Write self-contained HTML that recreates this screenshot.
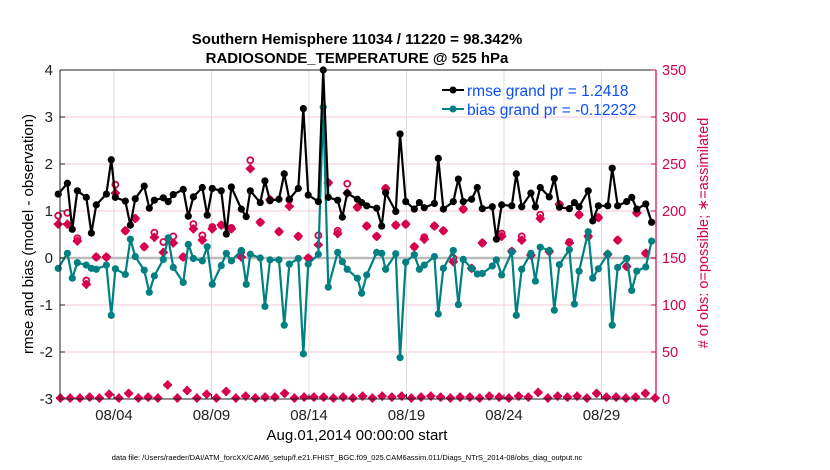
<!DOCTYPE html>
<html><head><meta charset="utf-8">
<style>
html,body{margin:0;padding:0;background:#fff;}
svg{display:block;font-family:"Liberation Sans",sans-serif;}
</style></head>
<body>
<svg id="chart" width="830" height="470" viewBox="0 0 830 470">
  <rect x="0" y="0" width="830" height="470" fill="#fff"/>
  <g id="grid"></g>
  <g id="marks"></g>
  <g id="axes"></g>
  <text x="357" y="44" text-anchor="middle" font-size="15" font-weight="bold">Southern Hemisphere 11034 / 11220 = 98.342%</text>
  <text x="357" y="63" text-anchor="middle" font-size="15" font-weight="bold">RADIOSONDE_TEMPERATURE @ 525 hPa</text>
  <text transform="translate(33,234) rotate(-90)" text-anchor="middle" font-size="15">rmse and bias (model - observation)</text>
  <text transform="translate(708,233) rotate(-90)" text-anchor="middle" font-size="14.5" fill="#d6004f"># of obs: o=possible; ∗=assimilated</text>
  <text x="357" y="440" text-anchor="middle" font-size="15">Aug.01,2014 00:00:00 start</text>
  <text x="347" y="460" text-anchor="middle" font-size="7.5">data file: /Users/raeder/DAI/ATM_forcXX/CAM6_setup/f.e21.FHIST_BGC.f09_025.CAM6assim.011/Diags_NTrS_2014-08/obs_diag_output.nc</text>
  <g>
    <line x1="442" y1="90" x2="464" y2="90" stroke="#000" stroke-width="2"/>
    <circle cx="453" cy="90" r="3.5" fill="#000"/>
    <text x="467" y="96" font-size="15.5" fill="#0b4dff">rmse grand pr = 1.2418</text>
    <line x1="442" y1="109" x2="464" y2="109" stroke="#008080" stroke-width="2"/>
    <circle cx="453" cy="109" r="3.5" fill="#008080"/>
    <text x="467" y="115" font-size="15.5" fill="#0b4dff">bias grand pr = -0.12232</text>
  </g>
</svg>
<script>
const rmseDays=[0.14,0.61,0.86,1.12,1.58,1.84,2.09,2.61,2.86,3.07,3.58,3.84,4.09,4.55,4.81,5.07,5.53,5.78,6.04,6.55,6.81,7.07,7.53,7.78,8.04,8.50,8.76,9.02,9.53,9.78,9.99,10.50,10.74,11.0,11.46,11.73,11.99,12.45,12.71,12.96,13.48,13.73,13.99,14.47,14.71,14.96,15.48,15.70,15.96,16.47,16.73,16.93,17.45,17.67,17.96,18.40,18.66,18.91,19.43,19.63,19.89,20.40,20.66,20.91,21.34,21.63,21.89,22.40,22.61,22.88,23.40,23.63,23.91,24.38,24.61,24.86,25.32,25.58,25.84,26.35,26.61,26.85,27.32,27.55,27.84,28.32,28.55,28.83,29.29,29.55,29.81,30.27,30.57];
const rmseVals=[1.36,1.59,0.61,1.43,1.29,0.53,1.13,1.36,2.09,1.29,1.21,0.70,1.26,1.53,1.06,1.23,1.28,1.20,1.35,1.46,0.89,1.30,1.50,0.91,1.48,1.43,0.51,1.51,1.04,0.88,1.43,1.18,1.64,1.22,1.25,1.79,1.25,1.48,3.18,1.34,1.20,4.0,1.29,1.23,0.87,1.38,1.25,1.18,1.11,1.06,0.68,1.39,0.99,2.64,1.20,1.04,1.18,1.07,1.16,2.12,1.04,1.20,1.68,1.20,1.25,1.50,1.05,1.09,0.40,1.13,1.11,1.79,1.09,1.38,1.09,1.50,1.30,1.69,1.08,1.05,1.18,1.09,1.43,0.79,1.11,1.11,1.91,1.11,1.20,1.29,1.04,1.15,0.76];
const biasVals=[-0.22,0.10,-0.43,-0.10,-0.15,-0.22,-0.24,-0.15,-1.22,-0.23,-0.35,0.40,0.03,-0.26,-0.73,-0.38,-0.03,0.43,-0.20,-0.52,0.29,-0.01,-0.06,0.24,-0.56,-0.16,0.10,-0.06,0.16,-0.56,0.08,0.0,-1.03,-0.04,-0.04,-1.43,-0.13,-0.01,-2.04,-0.13,0.08,3.21,-0.62,0.12,-0.08,-0.24,-0.43,-0.75,-0.36,0.12,0.10,-0.24,0.09,-2.12,-0.09,0.07,-0.24,-0.15,0.03,-1.19,-0.22,0.16,-0.99,-0.03,-0.22,-0.34,-0.33,-0.17,-0.04,-0.36,0.13,-1.22,-0.24,0.10,-0.49,0.23,0.16,-1.11,-0.14,0.18,-0.98,-0.28,0.56,-0.43,-0.23,0.09,-1.43,-0.20,-0.01,-0.69,-0.28,-0.19,0.36];
const obsDays=[0.14,0.61,1.12,1.58,2.09,2.61,3.07,3.58,4.09,4.55,5.07,5.53,6.04,6.55,7.07,7.53,8.04,8.50,9.02,9.53,9.99,10.50,11.0,11.46,11.99,12.45,12.96,13.48,13.99,14.47,14.96,15.48,15.96,16.47,16.93,17.45,17.96,18.40,18.91,19.43,19.89,20.40,20.91,21.34,21.89,22.88,23.40,23.91,24.38,24.86,25.32,25.84,26.35,26.85,27.32,27.84,28.32,28.83,29.29,29.81,30.27];
const obsAssim=[186,186,168,122,151,151,219,179,192,162,172,156,166,151,181,169,181,185,181,151,245,188,212,178,205,173,150,164,230,176,219,204,184,173,224,185,186,162,170,184,179,146,202,139,166,173,157,169,153,192,157,207,166,196,173,193,154,169,141,198,155];
const obsPossible=[195,198,171,126,151,151,228,179,192,162,177,167,173,151,186,174,183,185,182,157,254,188,212,178,212,173,150,174,230,179,229,204,184,173,224,185,186,162,172,184,179,150,202,139,166,176,157,173,153,196,157,207,167,196,173,193,154,169,141,198,155];
const lowDays=[0.25,0.75,1.25,1.75,2.25,2.75,3.25,3.75,4.25,4.75,5.25,5.75,6.25,6.75,7.25,7.75,8.25,8.75,9.25,9.75,10.25,10.75,11.25,11.75,12.25,12.75,13.25,13.75,14.25,14.75,15.25,15.75,16.25,16.75,17.25,17.75,18.25,18.75,19.25,19.75,20.25,20.75,21.25,21.75,22.25,22.75,23.25,23.75,24.25,24.75,25.25,25.75,26.25,26.75,27.25,27.75,28.25,28.75,29.25,29.75,30.25,30.75];
const lowVals=[1,1,1,2,1,5,1,6,1,2,1,15,1,9,1,5,1,8,1,3,1,2,2,6,1,2,2,2,1,2,1,3,1,3,2,3,1,2,3,2,1,2,2,1,3,2,1,3,2,7,1,3,2,3,1,6,2,2,1,2,6,1];
const leftTicks=[-3,-2,-1,0,1,2,3,4];
const rightTicks=[0,50,100,150,200,250,300,350];
const xTickDays=[3,8,13,18,23,28];
const xTickLabels=["08/04","08/09","08/14","08/19","08/24","08/29"];

const L=60,R=656,T=70,B=399;
const xS=d=>114+(d-3)*19.5;
const yL=v=>B-(v+3)/7*(B-T);
const yR=v=>B-v/350*(B-T);
const NS="http://www.w3.org/2000/svg";
function mk(tag,attrs,parent){const e=document.createElementNS(NS,tag);for(const k in attrs)e.setAttribute(k,attrs[k]);parent.appendChild(e);return e;}
const grid=document.getElementById('grid'),marks=document.getElementById('marks'),axes=document.getElementById('axes');
const PINK="#d6004f";

rightTicks.forEach(v=>{const l=mk('line',{x1:L,x2:R,y1:yR(v),y2:yR(v),stroke:'#f3c9d8','stroke-width':1},grid);

});
xTickDays.forEach(d=>{const l=mk('line',{x1:xS(d),x2:xS(d),y1:T,y2:B,stroke:'#dcdcdc','stroke-width':1},grid);

});
const z=mk('line',{x1:L,x2:R,y1:yL(0),y2:yL(0),stroke:'#bbb','stroke-width':2.5},grid);



function diamond(cx,cy,s,parent,name){const p=mk('path',{d:`M${cx} ${cy-s}L${cx+s} ${cy}L${cx} ${cy+s}L${cx-s} ${cy}Z M${cx-s-1} ${cy}H${cx+s+1} M${cx} ${cy-s-1}V${cy+s+1}`,fill:PINK,stroke:PINK,'stroke-width':2,'stroke-linejoin':'round'},parent);

}

lowDays.forEach((d,i)=>{diamond(xS(d),yR(lowVals[i]),3.5,marks,'low-count-marker');});
obsDays.forEach((d,i)=>{const c=mk('circle',{cx:xS(d),cy:yR(obsPossible[i]),r:3,fill:'#fff',stroke:PINK,'stroke-width':1.8},marks);

});
obsDays.forEach((d,i)=>{diamond(xS(d),yR(obsAssim[i]),3.5,marks,'obs-assimilated-marker');});

function series(vals,color,name){
 const pts=rmseDays.map((d,i)=>xS(d)+','+yL(vals[i])).join(' ');
 const pl=mk('polyline',{points:pts,fill:'none',stroke:color,'stroke-width':2.2,'stroke-linejoin':'round'},marks);
 
 
 rmseDays.forEach((d,i)=>{const c=mk('circle',{cx:xS(d),cy:yL(vals[i]),r:3.6,fill:color},marks);
 
 });
}
series(biasVals,'#008080','bias');
series(rmseVals,'#000','rmse');

const fr=mk('path',{d:`M${L} ${T}H${R}M${L} ${T}V${B}H${R}`,fill:'none',stroke:'#222','stroke-width':1},axes);


const ra=mk('line',{x1:R,x2:R,y1:T,y2:B,stroke:PINK,'stroke-width':1.2},axes);


leftTicks.forEach(v=>{const y=yL(v);
 const t=mk('line',{x1:L,x2:L+5,y1:y,y2:y,stroke:'#222'},axes);
 
 
 const tx=mk('text',{x:L-7,y:y+5,'text-anchor':'end','font-size':15,fill:'#222'},axes);tx.textContent=v;
 
 });
rightTicks.forEach(v=>{const y=yR(v);
 const t=mk('line',{x1:R-5,x2:R,y1:y,y2:y,stroke:PINK},axes);
 
 
 const tx=mk('text',{x:R+6,y:y+5,'font-size':14.5,fill:PINK},axes);tx.textContent=v;
 
 });
xTickDays.forEach((d,i)=>{const x=xS(d);
 const t=mk('line',{x1:x,x2:x,y1:B,y2:B-5,stroke:'#222'},axes);
 
 
 const tx=mk('text',{x:x,y:B+21,'text-anchor':'middle','font-size':15,fill:'#222'},axes);tx.textContent=xTickLabels[i];
 
 });
</script>
</body></html>
